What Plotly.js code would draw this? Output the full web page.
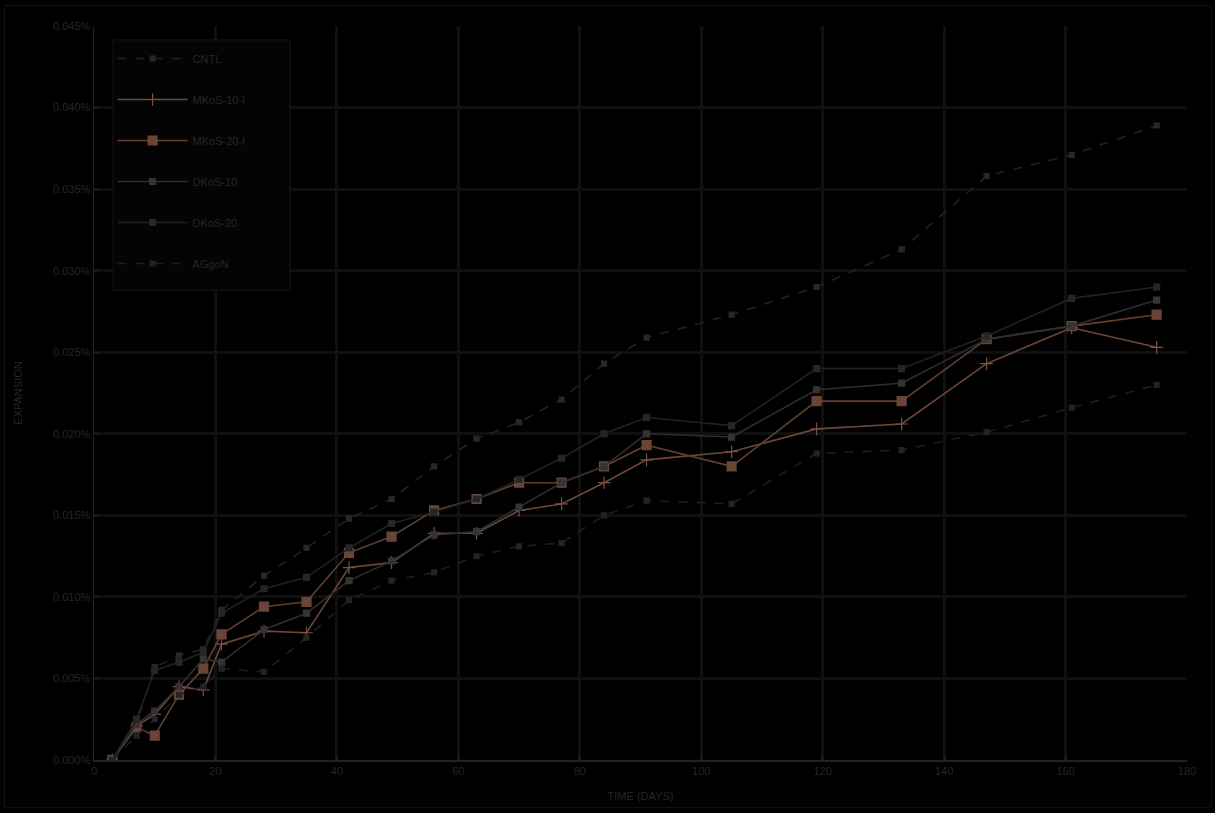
<!DOCTYPE html>
<html>
<head>
<meta charset="utf-8">
<script src="https://cdn.plot.ly/plotly-3.0.1.min.js"></script>
<style>html,body{margin:0;padding:0;background:#000;}#chart{width:1215px;height:813px;}</style>
</head>
<body>
<div id="chart"></div>
<script>
// Days
var days = [3, 7, 10, 14, 18, 21, 28, 35, 42, 49, 56, 63, 70, 77, 84, 91, 105, 119, 133, 147, 161, 175];
// Expansion values (%)
var cntl    = [0.0000, 0.0022, 0.0057, 0.0064, 0.0068, 0.0092, 0.0113, 0.0130, 0.0148, 0.0160, 0.0180, 0.0197, 0.0207, 0.0221, 0.0243, 0.0259, 0.0273, 0.0290, 0.0313, 0.0358, 0.0371, 0.0389];
var mkos10  = [0.0000, 0.0021, 0.0028, 0.0045, 0.0043, 0.0071, 0.0079, 0.0078, 0.0118, 0.0121, 0.0139, 0.0139, 0.0153, 0.0157, 0.0170, 0.0184, 0.0189, 0.0203, 0.0206, 0.0243, 0.0265, 0.0253];
var mkos20  = [0.0000, 0.0020, 0.0015, 0.0040, 0.0056, 0.0077, 0.0094, 0.0097, 0.0127, 0.0137, 0.0153, 0.0160, 0.0170, 0.0170, 0.0180, 0.0193, 0.0180, 0.0220, 0.0220, 0.0258, 0.0266, 0.0273];
var dkos10  = [0.0000, 0.0022, 0.0030, 0.0045, 0.0062, 0.0060, 0.0080, 0.0090, 0.0110, 0.0122, 0.0138, 0.0140, 0.0155, 0.0170, 0.0180, 0.0200, 0.0198, 0.0227, 0.0231, 0.0258, 0.0266, 0.0282];
var dkos20  = [0.0000, 0.0025, 0.0055, 0.0060, 0.0066, 0.0090, 0.0105, 0.0112, 0.0130, 0.0145, 0.0152, 0.0160, 0.0172, 0.0185, 0.0200, 0.0210, 0.0205, 0.0240, 0.0240, 0.0260, 0.0283, 0.0290];
var aggon   = [0.0000, 0.0015, 0.0025, 0.0040, 0.0045, 0.0056, 0.0054, 0.0075, 0.0098, 0.0110, 0.0115, 0.0125, 0.0131, 0.0133, 0.0150, 0.0159, 0.0157, 0.0188, 0.0190, 0.0201, 0.0216, 0.0230];
var names = ["CNTL", "MKoS-10-I", "MKoS-20-I", "DKoS-10", "DKoS-20", "AGgoN"];
var xTicks = [0, 20, 40, 60, 80, 100, 120, 140, 160, 180];

var styles = [
  {color:'#222222', dash:'dash', symbol:'square', size:5, mcolor:'#282828'},
  {color:'#6e4738', dash:'solid', symbol:'cross-thin', size:9, mcolor:'#7a5242'},
  {color:'#62402f', dash:'solid', symbol:'square', size:9, mcolor:'#6a4536'},
  {color:'#2e2e2e', dash:'solid', symbol:'square', size:6, mcolor:'#343434'},
  {color:'#212121', dash:'solid', symbol:'square', size:6, mcolor:'#262626'},
  {color:'#1e1e1e', dash:'dash', symbol:'square', size:5, mcolor:'#232323'}
];
var series = [cntl, mkos10, mkos20, dkos10, dkos20, aggon];
var traces = series.map(function(s, i){
  var st = styles[i];
  return {
    x: days, y: s, name: names[i], type:'scatter', mode:'lines+markers',
    legendgroup: 'g'+i,
    line:{color:st.color, width:1.6, dash:st.dash},
    marker:{symbol:st.symbol, size:st.size, color:st.mcolor, line:{color:st.mcolor, width:1.2}}
  };
});

var txt = '#262626';
var layout = {
  width:1215, height:813,
  paper_bgcolor:'#000', plot_bgcolor:'#000',
  margin:{l:94, r:28, t:26, b:53},
  font:{family:'Liberation Sans, Arial, sans-serif', size:11, color:txt},
  showlegend:true,
  legend:{x:0.017, y:0.9755, xanchor:'left', yanchor:'top', bgcolor:'rgba(0,0,0,0)',
          borderwidth:0, tracegroupgap:22, itemwidth:70,
          font:{size:11, color:txt}},
  xaxis:{range:[0,180], tickvals:xTicks, ticktext:xTicks.map(String),
         showgrid:true, gridcolor:'#101010', gridwidth:3,
         showline:true, linecolor:'#222222', linewidth:1.5, ticks:'inside', ticklen:5, tickcolor:'#222222',
         zeroline:false, tickfont:{size:11, color:txt},
         title:{text:'TIME (DAYS)', font:{size:11, color:txt}, standoff:16}},
  yaxis:{range:[0,0.045], dtick:0.005, tick0:0, tickformat:'.3f', ticksuffix:'%',
         showgrid:true, gridcolor:'#101010', gridwidth:3,
         showline:true, linecolor:'#222222', linewidth:1.5, ticks:'inside', ticklen:5, tickcolor:'#222222',
         zeroline:false, tickfont:{size:11, color:txt},
         title:{text:'EXPANSION', font:{size:11, color:txt}, standoff:28}},
  shapes:[
    {type:'rect', xref:'paper', yref:'paper', x0:-0.082, x1:1.022, y0:-0.065, y1:1.028,
     line:{color:'#141414', width:1}},
    {type:'rect', xref:'paper', yref:'paper', layer:'above', x0:0.0174, x1:0.1793, y0:0.640, y1:0.981,
     fillcolor:'#040404', line:{color:'#161616', width:1}}
  ]
};
Plotly.newPlot('chart', traces, layout, {staticPlot:true, displayModeBar:false});
</script>
</body>
</html>
